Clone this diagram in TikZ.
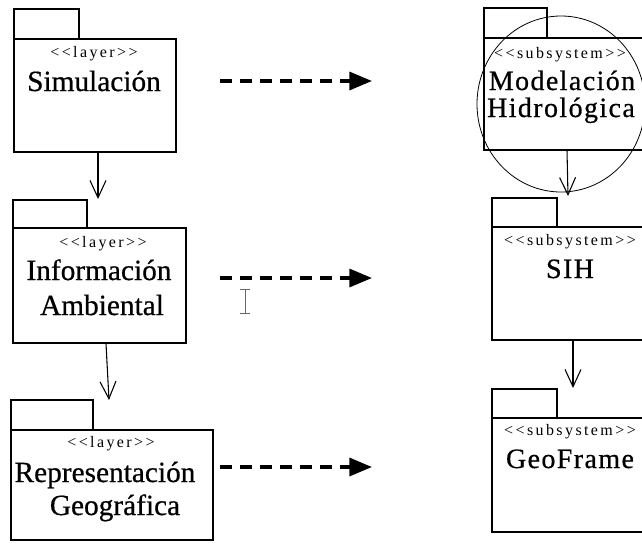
\documentclass[tikz,border=0pt]{standalone}
\usepackage{fontspec}
\setmainfont{Liberation Serif}
\newfontfamily\stereofont[LetterSpace=15]{Liberation Serif}
\newfontfamily\titlefont[FakeBold=0.6]{Liberation Serif}
\newfontfamily\widefont[LetterSpace=5, FakeBold=0.6]{Liberation Serif}
\usetikzlibrary{arrows.meta, fit, positioning}
\tikzset{
    x=0.75pt, y=-0.75pt, % one unit is one pixel of the screen shot, y grows downwards
    pkg/.style = {draw, line width=0.9pt, inner sep=0pt}, % body and tab of a package
    stereo/.style = {anchor=base, inner sep=0pt, font=\stereofont\fontsize{12}{14}\selectfont},
    title/.style = {anchor=base, inner sep=0pt, font=\titlefont\fontsize{22}{24}\selectfont},
    wtitle/.style = {anchor=base, inner sep=0pt, font=\widefont\fontsize{21}{24}\selectfont},
    dep/.style = {-{Straight Barb[length=13pt, width=12pt]}, line width=0.8pt},
    usage/.style = {-{Triangle[length=17pt, width=13.5pt]}, line width=2.5pt, dash pattern=on 9pt off 6pt}
}
\begin{document}
\begin{tikzpicture}
    \useasboundingbox (0,0) rectangle (642,543);
    \clip (0,0) rectangle (642,543);
    \fill[white] (0,0) rectangle (642,543);

    % layers on the left
    \node[pkg, fit={(14,39) (176,152)}] (sim) {};
    \node[pkg, fit={(14,9) (79,39)}] (simtab) {};
    \node[stereo] (simst) at (94,57) {<<layer>>};
    \node[title] (simtx) at (94,91) {Simulación};

    \node[pkg, fit={(13,228) (186,343)}] (info) {};
    \node[pkg, fit={(13,200) (87,228)}] (infotab) {};
    \node[stereo] (infost) at (103,247) {<<layer>>};
    \node[title] (infotx) at (99,280) {Información};
    \node[title] (infotxb) at (102,315) {Ambiental};

    \node[pkg, fit={(11,430) (213,540)}] (repr) {};
    \node[pkg, fit={(11,400) (93,430)}] (reprtab) {};
    \node[stereo] (reprst) at (111,447) {<<layer>>};
    \node[title] (reprtx) at (105,482) {Representación};
    \node[title] (reprtxb) at (115,515) {Geográfica};

    % subsystems on the right
    \node[pkg, fit={(484,38) (652,150)}] (model) {};
    \node[pkg, fit={(484,8) (547,38)}] (modeltab) {};
    \node[stereo] (modelst) at (560,58) {<<subsystem>>};
    \node[wtitle] (modeltx) at (562,90) {Modelación};
    \node[wtitle] (modeltxb) at (561,117) {Hidrológica};
    \draw[line width=0.6pt] (561,104) ellipse [x radius=84, y radius=88];

    \node[pkg, fit={(492,227) (652,340)}] (sih) {};
    \node[pkg, fit={(492,198) (557,227)}] (sihtab) {};
    \node[stereo] (sihst) at (570,245) {<<subsystem>>};
    \node[wtitle] (sihtx) at (570,278) {SIH};

    \node[pkg, fit={(492,418) (652,532)}] (geo) {};
    \node[pkg, fit={(492,389) (557,418)}] (geotab) {};
    \node[stereo] (geost) at (570,435) {<<subsystem>>};
    \node[wtitle] (geotx) at (570,468) {GeoFrame};

    % dependencies
    \coordinate (d1) at (98,199);
    \coordinate (d2) at (109,400);
    \coordinate (d3) at (568,196);
    \coordinate (d4) at (573,388);
    \draw[dep] (sim.south -| d1) -- (d1);
    \draw[dep] ([xshift=-2.25pt]info.south -| d2) -- (d2);
    \draw[dep] ([xshift=-0.75pt]model.south -| d3) -- (d3);
    \draw[dep] (sih.south -| d4) -- (d4);

    % layer to subsystem
    \coordinate (u1) at (220,81);  \coordinate (v1) at (372,81);
    \coordinate (u2) at (220,278); \coordinate (v2) at (372,278);
    \coordinate (u3) at (220,467); \coordinate (v3) at (372,467);
    \draw[usage] (u1) -- (v1);
    \draw[usage] (u2) -- (v2);
    \draw[usage] (u3) -- (v3);

    % text cursor
    \draw[gray!80!black, line width=0.7pt] (240,289) -- (250,289) (245,289) -- (245,313) (240,313) -- (250,313);
\end{tikzpicture}
\end{document}
